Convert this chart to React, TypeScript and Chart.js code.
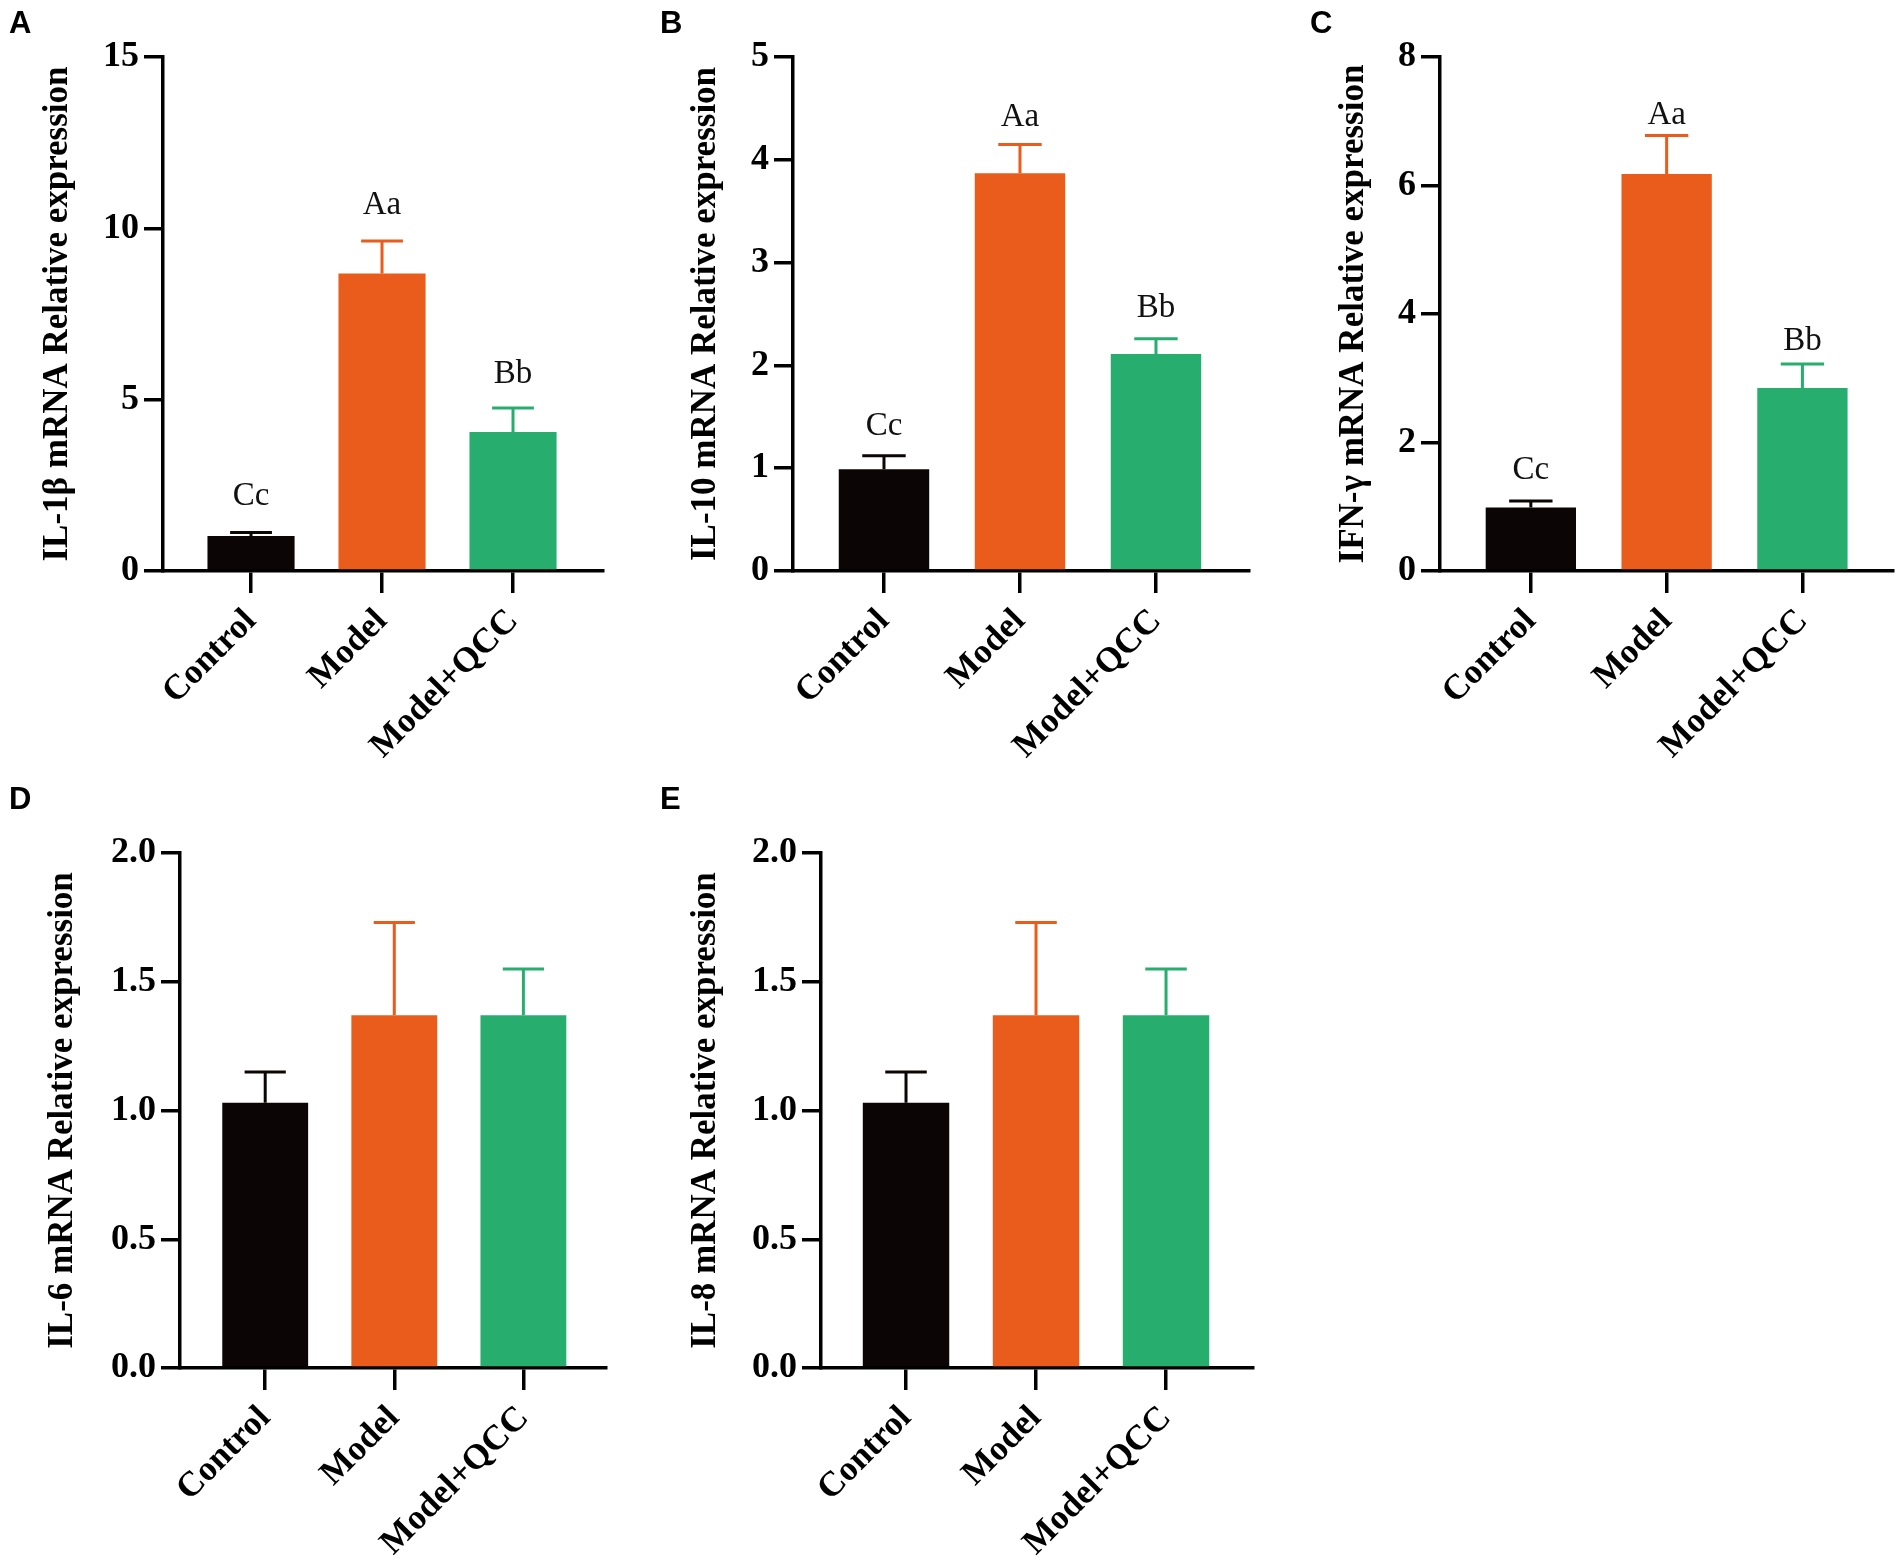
import React, { useEffect, useRef } from "react";
import Chart from "chart.js/auto";

const groups = ["Control", "Model", "Model+QCC"];
const barColors = ["#0b0505", "#e95c1b", "#27ae6f"];

const il1bMeans = [1.02, 8.68, 4.06];
const il1bErrors = [0.1, 0.95, 0.7];
const il1bTicks = [0, 5, 10, 15];

const il10Means = [0.99, 3.87, 2.11];
const il10Errors = [0.13, 0.28, 0.15];
const il10Ticks = [0, 1, 2, 3, 4, 5];

const ifngMeans = [0.99, 6.18, 2.85];
const ifngErrors = [0.1, 0.6, 0.37];
const ifngTicks = [0, 2, 4, 6, 8];

const il6Means = [1.03, 1.37, 1.37];
const il6Errors = [0.12, 0.36, 0.18];

const il8Means = [1.03, 1.37, 1.37];
const il8Errors = [0.12, 0.36, 0.18];

const smallTicks = [0, 0.5, 1.0, 1.5, 2.0];
const sigLetters = ["Cc", "Aa", "Bb"];

const SERIF = "'Liberation Serif', 'Times New Roman', serif";

interface PanelProps {
  title: string;
  means: number[];
  errors: number[];
  yTicks: number[];
  decimals: number;
  letters?: string[];
  letterGaps?: number[];
  box: { left: number; top: number; width: number; height: number };
  axisWidth: number;
  pad: { top: number; right: number; bottom: number };
  titlePad: number;
  xRange: [number, number];
}

const BarPanel: React.FC<PanelProps> = (p) => {
  const chartRef = useRef<HTMLCanvasElement | null>(null);

  useEffect(() => {
    if (!chartRef.current) return;
    const ctx = chartRef.current.getContext("2d");
    if (!ctx) return;

    // error bars (upper only) plus the letters over them
    const errorBars = {
      id: "errorBars",
      afterDatasetsDraw(chart: any) {
        const c = chart.ctx;
        const y = chart.scales.y;
        const meta = chart.getDatasetMeta(0);
        meta.data.forEach((bar: any, i: number) => {
          const top = y.getPixelForValue(p.means[i] + p.errors[i]);
          const half = bar.width * 0.24;
          c.save();
          c.strokeStyle = barColors[i];
          c.lineWidth = 3;
          c.beginPath();
          c.moveTo(bar.x, bar.y);
          c.lineTo(bar.x, top);
          c.moveTo(bar.x - half, top);
          c.lineTo(bar.x + half, top);
          c.stroke();
          if (p.letters) {
            c.fillStyle = "#111";
            c.font = `33px ${SERIF}`;
            c.textAlign = "center";
            c.textBaseline = "alphabetic";
            c.fillText(p.letters[i], bar.x, top - (p.letterGaps ? p.letterGaps[i] : 22));
          }
          c.restore();
        });
      },
    };

    const chart = new Chart(ctx, {
      type: "bar",
      data: {
        labels: groups,
        datasets: [
          {
            data: p.means,
            backgroundColor: barColors,
            borderWidth: 0,
            categoryPercentage: 0.665,
            barPercentage: 1,
          },
        ],
      },
      options: {
        responsive: true,
        maintainAspectRatio: false,
        animation: false,
        layout: { padding: { left: 0, top: p.pad.top, right: p.pad.right, bottom: p.pad.bottom } },
        plugins: { legend: { display: false }, tooltip: { enabled: false } },
        scales: {
          x: {
            type: "category",
            offset: true,
            // Prism-style spacing: a little more room at both ends than one half band
            afterBuildTicks: (s: any) => {
              s._startValue = p.xRange[0];
              s._valueRange = p.xRange[1] - p.xRange[0];
            },
            afterFit: (s: any) => {
              s.height = 200;
            },
            ticks: {
              autoSkip: false,
              minRotation: 45,
              maxRotation: 45,
              padding: 8,
              color: "#000",
              font: { family: SERIF, weight: "bold", size: 35 },
            },
            grid: {
              offset: false,
              drawOnChartArea: false,
              tickLength: 22,
              tickWidth: 3.5,
              lineWidth: 3.5,
              tickColor: "#000",
              color: "#000",
            },
            border: { display: true, width: 3.5, color: "#000" },
          },
          y: {
            min: p.yTicks[0],
            max: p.yTicks[p.yTicks.length - 1],
            afterBuildTicks: (s: any) => {
              s.ticks = p.yTicks.map((v) => ({ value: v }));
            },
            afterFit: (s: any) => {
              s.width = p.axisWidth;
            },
            ticks: {
              padding: 5,
              color: "#000",
              font: { family: SERIF, weight: "bold", size: 36 },
              callback: (v: any) => Number(v).toFixed(p.decimals),
            },
            grid: {
              drawOnChartArea: false,
              tickLength: 19,
              tickWidth: 3.5,
              lineWidth: 3.5,
              tickColor: "#000",
              color: "#000",
            },
            border: { display: true, width: 3.5, color: "#000" },
            title: {
              display: true,
              text: p.title,
              color: "#000",
              font: { family: SERIF, weight: "bold", size: 35 },
              padding: { top: p.titlePad, bottom: 0 },
            },
          },
        },
      },
      plugins: [errorBars],
    });

    return () => {
      chart.destroy();
    };
  }, [p]);

  return (
    <div
      style={{
        position: "absolute",
        left: p.box.left,
        top: p.box.top,
        width: p.box.width,
        height: p.box.height,
      }}
    >
      <canvas ref={chartRef} />
    </div>
  );
};

const letterStyle = (left: number, top: number): React.CSSProperties => ({
  position: "absolute",
  left,
  top,
  fontFamily: "'Liberation Sans', Arial, sans-serif",
  fontWeight: "bold",
  fontSize: 31,
  lineHeight: 1,
  color: "#000",
});

const panels: PanelProps[] = [
  {
    title: "IL-1β mRNA Relative expression",
    means: il1bMeans,
    errors: il1bErrors,
    yTicks: il1bTicks,
    decimals: 0,
    letters: sigLetters,
    letterGaps: [28, 27, 25],
    box: { left: 0, top: 0, width: 640, height: 780 },
    axisWidth: 163,
    pad: { top: 57, right: 37, bottom: 9 },
    titlePad: 37,
    xRange: [-0.672, 2.687],
  },
  {
    title: "IL-10 mRNA Relative expression",
    means: il10Means,
    errors: il10Errors,
    yTicks: il10Ticks,
    decimals: 0,
    letters: sigLetters,
    letterGaps: [21, 18, 22],
    box: { left: 640, top: 0, width: 640, height: 780 },
    axisWidth: 153,
    pad: { top: 57, right: 31, bottom: 9 },
    titlePad: 45,
    xRange: [-0.669, 2.684],
  },
  {
    title: "IFN-γ mRNA Relative expression",
    means: ifngMeans,
    errors: ifngErrors,
    yTicks: ifngTicks,
    decimals: 0,
    letters: sigLetters,
    letterGaps: [22, 11, 14],
    box: { left: 1280, top: 0, width: 621, height: 780 },
    axisWidth: 160,
    pad: { top: 57, right: 8, bottom: 9 },
    titlePad: 53,
    xRange: [-0.669, 2.667],
  },
  {
    title: "IL-6 mRNA Relative expression",
    means: il6Means,
    errors: il6Errors,
    yTicks: smallTicks,
    decimals: 1,
    box: { left: 0, top: 780, width: 640, height: 788 },
    axisWidth: 180,
    pad: { top: 73, right: 34, bottom: 0 },
    titlePad: 42,
    xRange: [-0.66, 2.64],
  },
  {
    title: "IL-8 mRNA Relative expression",
    means: il8Means,
    errors: il8Errors,
    yTicks: smallTicks,
    decimals: 1,
    box: { left: 640, top: 780, width: 640, height: 788 },
    axisWidth: 181,
    pad: { top: 73, right: 27, bottom: 0 },
    titlePad: 45,
    xRange: [-0.654, 2.669],
  },
];

const App: React.FC = () => {
  return (
    <div
      style={{
        position: "absolute",
        left: 0,
        top: 0,
        width: 1901,
        height: 1568,
        background: "#fff",
        overflow: "hidden",
      }}
    >
      {panels.map((p, i) => (
        <BarPanel key={i} {...p} />
      ))}
      <div style={letterStyle(9, 7)}>A</div>
      <div style={letterStyle(660, 7)}>B</div>
      <div style={letterStyle(1310, 7)}>C</div>
      <div style={letterStyle(9, 783)}>D</div>
      <div style={letterStyle(660, 783)}>E</div>
    </div>
  );
};

export default App;
